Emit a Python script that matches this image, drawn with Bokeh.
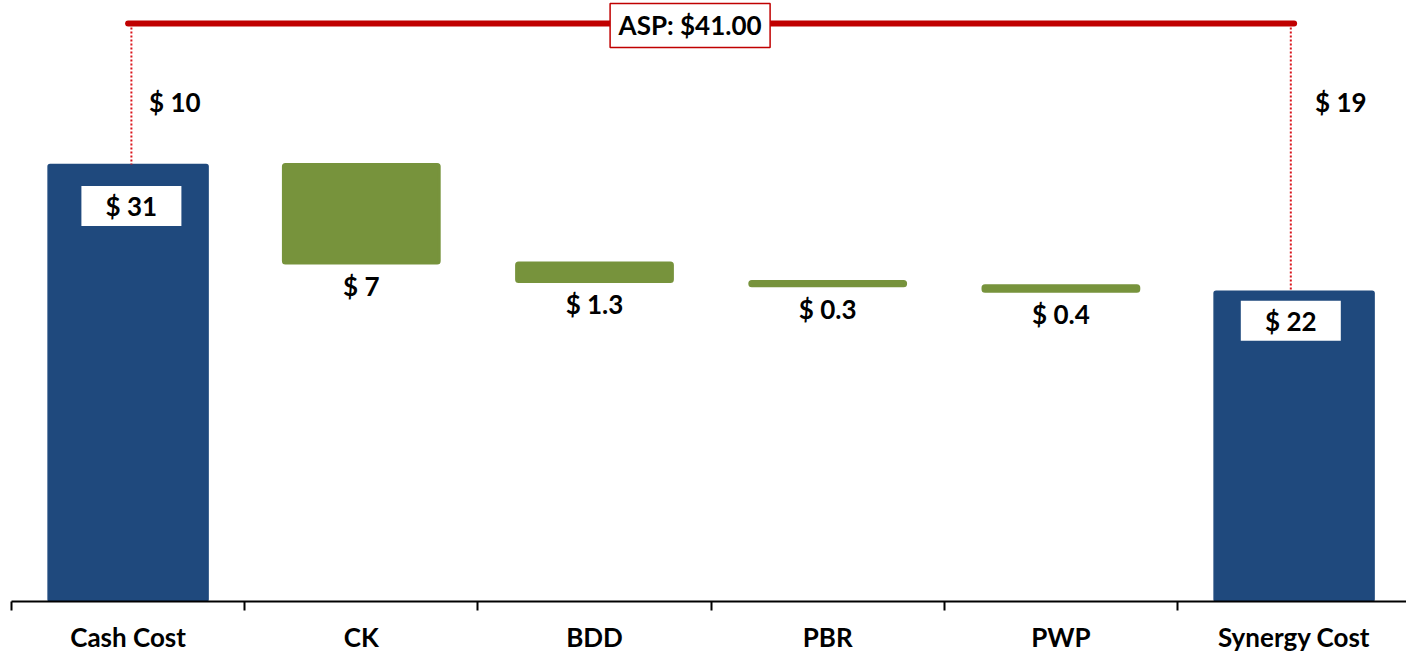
from bokeh.plotting import figure
from bokeh.models import Range1d, FixedTicker, ColumnDataSource
from bokeh.core.properties import value
from bokeh.embed import file_html
from bokeh.resources import INLINE

# ---------------- data ----------------
categories = ["Cash Cost", "CK", "BDD", "PBR", "PWP", "Synergy Cost"]
cash_cost = 31.0
step_values = [7.0, 1.3, 0.3, 0.4]          # CK, BDD, PBR, PWP reductions
step_labels = ["$ 7", "$ 1.3", "$ 0.3", "$ 0.4"]
synergy_cost = 22.0
asp = 41.0

# ---------------- style ----------------
NAVY = "#1F497D"
GREEN = "#77933C"
RED = "#C00000"
DOT_RED = "#D9141B"
FONT = value("Lato")
FS = "26px"

FRAME_W, FRAME_H = 1395, 601
X0 = -0.5
PX_X = 233.2                     # pixels per category
X1 = X0 + FRAME_W / PX_X
PX_Y = 14.1                      # pixels per $ unit
Y0 = 0.0
Y1 = Y0 + FRAME_H / PX_Y

p = figure(frame_width=FRAME_W, frame_height=FRAME_H,
           x_range=Range1d(X0, X1), y_range=Range1d(Y0, Y1),
           output_backend="svg", toolbar_location=None, y_axis_location=None,
           min_border_left=11, min_border_right=0, min_border_top=0, min_border_bottom=0)
p.outline_line_color = None
p.xgrid.visible = False
p.ygrid.visible = False
p.background_fill_color = "white"
p.border_fill_color = "white"

xs = list(range(len(categories)))

# waterfall levels
tops, bottoms = [], []
level = cash_cost
for v in step_values:
    tops.append(level)
    level -= v
    bottoms.append(level)

# total bars
tot_src = ColumnDataSource(dict(x=[xs[0], xs[-1]], top=[cash_cost, synergy_cost]))
p.vbar(x="x", top="top", bottom=0, width=0.686, source=tot_src,
       fill_color=NAVY, line_color=NAVY, line_width=1.5, border_radius=2)

# step bars
step_src = ColumnDataSource(dict(x=xs[1:-1], top=tops, bottom=bottoms, lab=step_labels))
p.vbar(x="x", top="top", bottom="bottom", width=0.668, source=step_src,
       fill_color=GREEN, line_color=GREEN, line_width=3, border_radius=2)
p.text(x="x", y="bottom", text="lab", source=step_src, text_font=FONT, text_font_style="bold",
       text_font_size=FS, text_color="black", text_align="center", text_baseline="middle",
       y_offset=23)

# white value boxes on the total bars
inset = 3.3 / PX_X
box_src = ColumnDataSource(dict(
    x=[xs[0] + inset, xs[-1] - inset],
    y=[cash_cost * 0.905, synergy_cost * 0.905],
    lab=[f"$ {cash_cost:.0f}", f"$ {synergy_cost:.0f}"]))
p.rect(x="x", y="y", width=100, height=40, width_units="screen", height_units="screen",
       source=box_src, fill_color="white", line_color=None)
p.text(x="x", y="y", text="lab", source=box_src, text_font=FONT, text_font_style="bold",
       text_font_size=FS, text_color="black", text_align="center", text_baseline="middle")

# dotted drop lines from the ASP line to the totals
p.segment(x0=[xs[0] + inset, xs[-1] - inset], x1=[xs[0] + inset, xs[-1] - inset],
          y0=[asp, asp], y1=[cash_cost, synergy_cost],
          line_color=DOT_RED, line_width=2, line_dash="2 2")

# ASP line
p.segment(x0=[xs[0]], x1=[xs[-1]], y0=[asp], y1=[asp],
          line_color=RED, line_width=6, line_cap="round")

# gap labels
gap_src = ColumnDataSource(dict(x=[xs[0], xs[-1]], y=[asp, asp],
                                lab=[f"$ {asp - cash_cost:.0f}", f"$ {asp - synergy_cost:.0f}"]))
p.text(x="x", y="y", text="lab", source=gap_src, text_font=FONT, text_font_style="bold",
       text_font_size=FS, text_color="black", text_align="left", text_baseline="middle",
       x_offset=21, y_offset=79)

# ASP box
ax = (xs[0] + xs[-1]) / 2 - 21 / PX_X
ay = asp - 2 / PX_Y
p.rect(x=[ax], y=[ay], width=160, height=44, width_units="screen", height_units="screen",
       fill_color="white", line_color=RED, line_width=1.5)
p.text(x=[ax], y=[ay], text=[f"ASP: ${asp:.2f}"], text_font=FONT, text_font_style="bold",
       text_font_size=FS, text_color="black", text_align="center", text_baseline="middle")

# x axis
ax_ = p.xaxis[0]
ax_.ticker = FixedTicker(ticks=xs, minor_ticks=[i - 0.5 for i in xs])
ax_.major_label_overrides = {i: c for i, c in enumerate(categories)}
ax_.major_tick_line_color = None
ax_.major_tick_out = 0
ax_.major_tick_in = 0
ax_.minor_tick_line_color = "black"
ax_.minor_tick_line_width = 2
ax_.minor_tick_out = 9
ax_.minor_tick_in = 0
ax_.axis_line_color = "black"
ax_.axis_line_width = 2
ax_.major_label_text_font = "Lato"
ax_.major_label_text_font_style = "bold"
ax_.major_label_text_font_size = FS
ax_.major_label_text_color = "black"
ax_.major_label_standoff = 10

open("out.html", "w").write(file_html(p, INLINE))
